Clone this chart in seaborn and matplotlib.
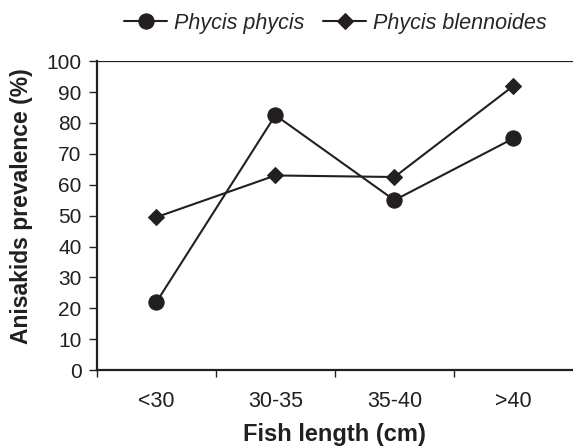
import matplotlib
matplotlib.use('Agg')
import matplotlib.pyplot as plt
import seaborn as sns
import pandas as pd

# Data
length_classes = ['<30', '30-35', '35-40', '>40']
phycis_phycis = [22, 82.5, 55, 75]
phycis_blennoides = [49.5, 63, 62.5, 92]
species = ['Phycis phycis', 'Phycis blennoides']

ink = '#231f20'

sns.set_style('ticks')
plt.rcParams['font.family'] = ['Liberation Sans', 'DejaVu Sans']

data = pd.DataFrame({
    'length': length_classes * 2,
    'prevalence': phycis_phycis + phycis_blennoides,
    'species': [species[0]] * 4 + [species[1]] * 4,
})

fig = plt.figure(figsize=(5.73, 4.46), dpi=100)
ax = fig.add_axes([0.169, 0.170, 0.831, 0.693])

sns.lineplot(data=data, x='length', y='prevalence', hue='species', style='species',
             markers=['o', 'D'], dashes=False, palette=[ink, ink], sort=False,
             linewidth=1.5, markeredgecolor=ink, ax=ax, legend=True)
marker_sizes = [11, 8.5]
for line, ms in zip(ax.lines, marker_sizes):
    line.set_markersize(ms)

ax.set_ylim(0, 100)
ax.set_xlim(-0.5, 3.5)
ax.set_yticks(range(0, 101, 10))

# category labels sit between the boundary ticks
ax.set_xticks([-0.5, 0.5, 1.5, 2.5])
ax.set_xticklabels([])
ax.set_xticks(range(4), minor=True)
ax.set_xticklabels(length_classes, minor=True)
ax.tick_params(axis='x', which='minor', length=0, pad=15, labelsize=15.5, colors=ink)
ax.tick_params(axis='x', which='major', length=5, width=1, direction='out', color=ink)
ax.tick_params(axis='y', length=6, width=1, direction='out', labelsize=15, colors=ink, pad=5)

for side in ['left', 'bottom']:
    ax.spines[side].set_linewidth(1.6)
    ax.spines[side].set_color(ink)
ax.spines['right'].set_visible(False)
ax.spines['top'].set_visible(False)
ax.axhline(100, color=ink, linewidth=0.9, zorder=0)

ax.set_xlabel('Fish length (cm)', fontsize=17, fontweight='bold', color=ink, labelpad=8)
ax.set_ylabel('Anisakids prevalence (%)', fontsize=16.5, fontweight='bold', color=ink, labelpad=10)
ax.yaxis.label.set_y(0.53)

handles, labels = ax.get_legend_handles_labels()
for h, ms in zip(handles, marker_sizes):
    h.set_markersize(ms)
    h.set_linewidth(1.5)
ax.legend(handles, labels, loc='center', bbox_to_anchor=(0.585, 0.948),
          bbox_transform=fig.transFigure, ncol=2, frameon=False,
          prop={'style': 'italic', 'size': 15.5}, handlelength=2.0,
          columnspacing=0.9, handletextpad=0.3)

fig.savefig('out.png', dpi=100)
